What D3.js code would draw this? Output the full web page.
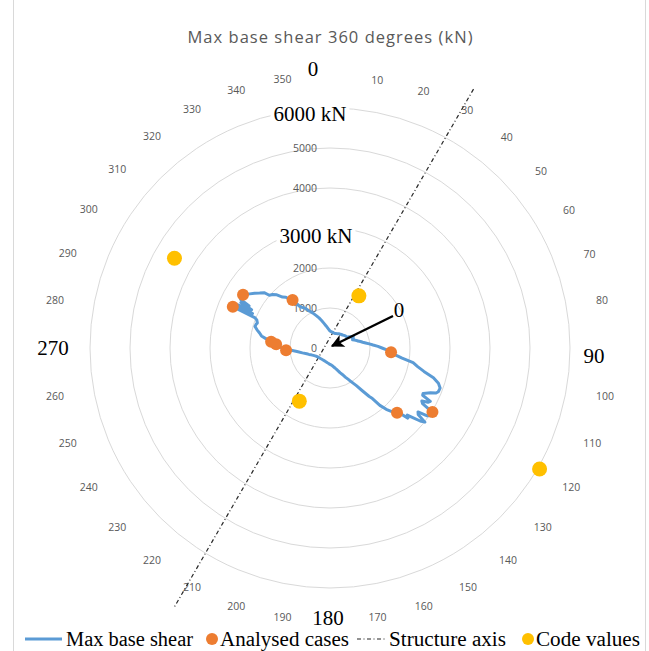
<!DOCTYPE html>
<html>
<head>
<meta charset="utf-8">
<script src="https://cdn.jsdelivr.net/npm/d3@7"></script>
<style>
  body { margin: 0; background: #fff; }
</style>
</head>
<body>
<div id="chart"></div>
<script>
// --- data ---
const ringValues = [1000, 2000, 3000, 4000, 5000, 6000];
const ringLabels = [0, 1000, 2000, 4000, 5000];
const angleLabels = [10, 20, 30, 40, 50, 60, 70, 80, 100, 110, 120, 130, 140, 150, 160, 170,
  190, 200, 210, 220, 230, 240, 250, 260, 280, 290, 300, 310, 320, 330, 340, 350];

// max base shear per direction (deg, kN)
const shearAngles = [0, 4, 8, 12, 16, 20, 24, 28, 32, 36, 40, 44, 48, 52, 56, 58, 60, 62, 64, 66,
  68, 70, 72, 74, 76, 78, 80, 82, 84, 86, 88, 90, 92, 94, 96, 98, 100, 102, 104, 106,
  108, 110, 112, 113, 114, 116, 117, 118, 119, 120, 121, 122, 124, 125, 126, 127, 128, 129, 130, 131,
  132, 133, 134, 136, 137.5, 139, 140, 141, 143, 145, 146.5, 148, 150, 152, 155, 158, 160, 163, 166, 170,
  175, 180, 185, 190, 200, 210, 220, 230, 240, 246, 250, 253, 256, 260, 264, 267, 268, 270, 272, 274,
  276, 278, 280, 282, 284, 286, 288, 289, 291, 292, 293, 294, 295, 296, 297, 297.5, 298.5, 300, 301.5, 303,
  304, 306, 308, 310, 311, 313, 315, 317, 319, 320, 322, 324, 326, 328, 330, 332, 334, 337, 340, 343,
  346, 350, 355];
const shearValues = [425, 410, 400, 392, 385, 388, 395, 405, 420, 430, 440, 452, 470, 490, 500, 520, 560, 600, 650, 610,
  630, 600, 640, 690, 720, 780, 830, 900, 990, 1080, 1200, 1300, 1420, 1530, 1640, 1820, 2110, 2240, 2420, 2690,
  2850, 2930, 2920, 2880, 2750, 2590, 2600, 2840, 2800, 2650, 2700, 2990, 3030, 2950, 2720, 2760, 3010, 2900, 2720, 2560,
  2620, 2400, 2330, 2200, 2080, 1900, 1650, 1560, 1330, 1150, 1060, 990, 900, 830, 730, 665, 615, 560, 515, 470,
  430, 410, 388, 375, 355, 345, 352, 368, 405, 455, 500, 548, 600, 700, 830, 1000, 1100, 1200, 1290, 1350,
  1480, 1600, 1740, 1800, 1880, 1950, 1940, 1920, 1960, 2030, 2640, 2120, 2560, 2180, 2500, 2280, 2540, 2600, 2550, 2470,
  2420, 2330, 2230, 2150, 2010, 1960, 1880, 1740, 1680, 1600, 1510, 1290, 1220, 1170, 1080, 1030, 970, 880, 800, 720,
  640, 560, 480];

const caseAngles = [94, 122, 134, 267, 274, 276, 293, 301.5, 322];
const caseValues = [1530, 3020, 2330, 1100, 1350, 1480, 2640, 2550, 1520];

const codeAngles = [29, 120, 210, 300];
const codeValues = [1490, 6050, 1535, 4490];

const axisAngles = [29, 211];
const axisValues = [7400, 7550];

// --- layout ---
const W = 649, H = 651;
const cx = 330, cy = 348;
const blue = '#5b9bd5', orange = '#ed7d31', yellow = '#ffc000';
const grey = '#595959';

const svg = d3.select('#chart').append('svg')
  .attr('width', W)
  .attr('height', H)
  .style('font-family', "'Open Sans', sans-serif");

const r = d3.scaleLinear().domain([0, 6000]).range([0, 240]);
const rad = d => d * Math.PI / 180;

// chart area frame
svg.append('rect')
  .attr('x', 13.5).attr('y', -2)
  .attr('width', 632).attr('height', H + 4)
  .attr('fill', 'none')
  .attr('stroke', '#d9d9d9');

// title
svg.append('text')
  .attr('x', cx).attr('y', 43)
  .attr('text-anchor', 'middle')
  .attr('textLength', 285)
  .attr('lengthAdjust', 'spacing')
  .style('font-size', '16.5px')
  .style('fill', grey)
  .text('Max base shear 360 degrees (kN)');

const g = svg.append('g').attr('transform', `translate(${cx},${cy})`);

// rings
g.selectAll('.ring')
  .data(ringValues)
  .join('circle')
  .attr('class', 'ring')
  .attr('r', d => r(d))
  .attr('fill', 'none')
  .attr('stroke', '#d9d9d9')
  .attr('stroke-width', 1);

// ring value labels
g.selectAll('.ring-label')
  .data(ringLabels)
  .join('text')
  .attr('class', 'ring-label')
  .attr('x', -13)
  .attr('y', d => -r(d) + 4)
  .attr('text-anchor', 'end')
  .style('font-size', '10.5px')
  .style('fill', grey)
  .text(d => d);

// angle labels: box edge sits on a fixed radius, like Excel does
const labelR = 270;
g.selectAll('.angle-label')
  .data(angleLabels)
  .join('text')
  .attr('class', 'angle-label')
  .attr('text-anchor', 'middle')
  .style('font-size', '10.5px')
  .style('fill', grey)
  .text(d => d)
  .each(function (d) {
    const w = this.getComputedTextLength();
    const s = Math.sin(rad(d)), c = Math.cos(rad(d));
    const rr = labelR + (w / 2) * Math.abs(s) + 1.5 * Math.abs(c);
    d3.select(this)
      .attr('x', rr * s)
      .attr('y', -rr * c + 4);
  });

// structure axis
const axisPts = axisAngles.map((a, i) => [a, axisValues[i]]);
g.append('path')
  .datum(axisPts)
  .attr('d', d3.lineRadial().angle(d => rad(d[0])).radius(d => r(d[1])))
  .attr('fill', 'none')
  .attr('stroke', '#262626')
  .attr('stroke-width', 1.2)
  .attr('stroke-dasharray', '4,2.5,1,2.5');

// max base shear line
const shearPts = shearAngles.map((a, i) => [a, shearValues[i]]);
g.append('path')
  .datum(shearPts)
  .attr('d', d3.lineRadial().angle(d => rad(d[0])).radius(d => r(d[1])).curve(d3.curveLinearClosed))
  .attr('fill', 'none')
  .attr('stroke', blue)
  .attr('stroke-width', 3)
  .attr('stroke-linejoin', 'round');

// analysed cases
g.selectAll('.case')
  .data(caseAngles.map((a, i) => [a, caseValues[i]]))
  .join('circle')
  .attr('class', 'case')
  .attr('cx', d => r(d[1]) * Math.sin(rad(d[0])))
  .attr('cy', d => -r(d[1]) * Math.cos(rad(d[0])))
  .attr('r', 6)
  .attr('fill', orange);

// code values
g.selectAll('.code')
  .data(codeAngles.map((a, i) => [a, codeValues[i]]))
  .join('circle')
  .attr('class', 'code')
  .attr('cx', d => r(d[1]) * Math.sin(rad(d[0])))
  .attr('cy', d => -r(d[1]) * Math.cos(rad(d[0])))
  .attr('r', 7.5)
  .attr('fill', yellow);

// big overlay labels (text boxes in the original)
const serif = "'Liberation Serif', 'Times New Roman', serif";
function bigLabel(x, y, txt, boxed) {
  const t = svg.append('text')
    .attr('x', x).attr('y', y)
    .attr('text-anchor', 'middle')
    .style('font-family', serif)
    .style('font-size', '21px')
    .style('fill', '#000')
    .text(txt);
  if (boxed) {
    const b = t.node().getBBox();
    svg.insert('rect', () => t.node())
      .attr('x', b.x - 3).attr('y', b.y - 1)
      .attr('width', b.width + 6).attr('height', b.height + 2)
      .attr('fill', '#fff');
  }
  return t;
}
bigLabel(313, 76, '0', false);
bigLabel(594, 363, '90', false);
bigLabel(328, 625, '180', false);
bigLabel(53, 355, '270', false);
bigLabel(310, 121, '6000 kN', true);
bigLabel(316, 243, '3000 kN', true);

// arrow pointing at the centre
const defs = svg.append('defs');
defs.append('marker')
  .attr('id', 'arrow')
  .attr('viewBox', '0 0 10 10')
  .attr('refX', 9).attr('refY', 5)
  .attr('markerUnits', 'userSpaceOnUse')
  .attr('markerWidth', 17).attr('markerHeight', 13)
  .attr('orient', 'auto')
  .append('path')
  .attr('d', 'M0,0 L10,5 L0,10 L2.5,5 z')
  .attr('fill', '#000');

svg.append('line')
  .attr('x1', 393).attr('y1', 316)
  .attr('x2', 332).attr('y2', 346)
  .attr('stroke', '#000')
  .attr('stroke-width', 2.4)
  .attr('marker-end', 'url(#arrow)');
bigLabel(399, 317, '0', false);

// legend
const ly = 639;
const legend = svg.append('g').style('font-family', serif).style('font-size', '20.5px');
legend.append('line')
  .attr('x1', 25).attr('x2', 62).attr('y1', ly).attr('y2', ly)
  .attr('stroke', blue).attr('stroke-width', 3);
legend.append('circle').attr('cx', 212).attr('cy', ly).attr('r', 6).attr('fill', orange);
legend.append('line')
  .attr('x1', 357).attr('x2', 386).attr('y1', ly).attr('y2', ly)
  .attr('stroke', '#262626').attr('stroke-width', 1.2)
  .attr('stroke-dasharray', '4,2.5,1,2.5');
legend.append('circle').attr('cx', 528).attr('cy', ly).attr('r', 6).attr('fill', yellow);

const legendItems = [
  { x: 66, w: 127, label: 'Max base shear' },
  { x: 220, w: 129, label: 'Analysed cases' },
  { x: 389, w: 117, label: 'Structure axis' },
  { x: 536, w: 104, label: 'Code values' }
];
legend.selectAll('text')
  .data(legendItems)
  .join('text')
  .attr('x', d => d.x)
  .attr('y', ly + 7)
  .attr('textLength', d => d.w)
  .attr('lengthAdjust', 'spacingAndGlyphs')
  .style('fill', '#000')
  .text(d => d.label);
</script>
</body>
</html>
